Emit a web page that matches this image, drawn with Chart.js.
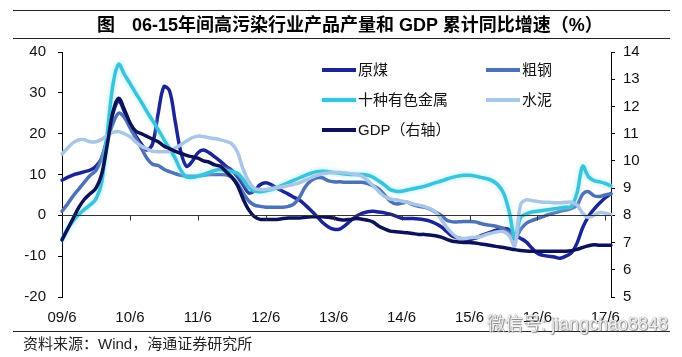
<!DOCTYPE html>
<html><head><meta charset="utf-8">
<script src="https://cdn.jsdelivr.net/npm/chart.js@4.4.1/dist/chart.umd.min.js"></script>
<style>
html,body{margin:0;padding:0;background:#fff;width:682px;height:357px;overflow:hidden;}
#wrap{position:relative;width:682px;height:357px;}
canvas{position:absolute;left:0;top:0;}
.rule{position:absolute;left:13px;width:657px;height:1px;background:#222;}
#t1,#t2{position:absolute;top:14px;font-family:"Liberation Sans","Noto Sans CJK SC",sans-serif;font-weight:bold;font-size:18px;line-height:22px;color:#000;white-space:pre;}
#t1{left:97px;}
#t2{left:132px;}
#src{position:absolute;left:23px;top:335px;font-family:"Liberation Sans","Noto Sans CJK SC",sans-serif;font-size:15px;line-height:18px;color:#222;white-space:pre;}
#wm{position:absolute;left:487px;top:313px;font-family:"Liberation Sans","Noto Sans CJK SC",sans-serif;font-size:18px;line-height:22px;color:#f2f2f2;white-space:pre;text-shadow:0 0 1px #666,1px 1px 1px #888;}
</style></head><body>
<div id="wrap">
<canvas id="c" width="682" height="357"></canvas>
<div class="rule" style="top:10px"></div>
<div class="rule" style="top:38px"></div>
<div id="t1">图</div>
<div id="t2">06-15年间高污染行业产品产量和 GDP 累计同比增速（%）</div>
<div class="rule" style="top:331px"></div>
<div id="src">资料来源：Wind，海通证券研究所</div>
<div id="wm">微信号: jiangchao8848</div>
</div>
<script>
// monthly categories 09/6 .. 17/7
const months = [];
for (let y = 9; y <= 17; y++) {
  for (let m = 1; m <= 12; m++) {
    if ((y === 9 && m < 6) || (y === 17 && m > 7)) continue;
    months.push(String(y).padStart(2, '0') + '/' + m);
  }
}

const seriesNames = ['原煤', '粗钢', '十种有色金属', '水泥', 'GDP（右轴）'];

const coal = [
  8.6, 9.3, 9.9, 10.3, 10.7, 11.1, 12, 14, 19, 25,
  28, 25.5, 22, 19.5, 17.5, 16, 17.5, 25, 31.5, 30.5,
  23, 15.5, 12, 13.2, 15.3, 16, 15.3, 14.3, 13.2, 12,
  11, 9.5, 7.5, 5.5, 6, 7.5, 8, 7.5, 6.6, 5.9,
  5.2, 4.4, 3.7, 2.5, 1.2, -0.2, -1.7, -2.8, -3.4, -3.4,
  -2.5, -1.3, -0.2, 0.5, 0.9, 1, 0.8, 0.6, 0.3, -0.2,
  -0.7, -0.8, -0.8, -0.9, -1.1, -1.4, -2, -2.8, -4, -5.1,
  -5.5, -5.8, -5.9, -5.6, -5, -4.5, -4, -3.5, -3.2, -3.5,
  -4.8, -5.6, -6.5, -8, -9.3, -9.8, -10, -10.2, -10.5, -10,
  -9.2, -6.8, -3, -0.3, 1.5, 3, 4.3, 5.3
];
const steel = [
  1, 2.8, 4.8, 6.5, 8.2, 9.8, 11, 14, 18.5, 22.5,
  25, 24, 21.5, 19, 16.5, 14, 12.5, 12.2, 11.3, 10.7,
  10.2, 9.8, 9.6, 9.6, 9.6, 9.8, 10, 10, 10, 9.9,
  9.3, 7.8, 5.5, 3.5, 2.5, 2.2, 2, 2, 2, 2,
  2.2, 2.8, 4.5, 7, 8.5, 9.2, 9.2, 8.5, 8.2, 8.2,
  8.1, 8.1, 8.1, 8.1, 7.8, 7.2, 6.4, 5, 3.5, 2.8,
  3, 3.2, 2.6, 2.2, 2, 1.5, 0.8, 0, -1.2, -1.6,
  -1.6, -1.5, -1.5, -1.6, -2, -2.3, -2.5, -2.8, -3.2, -4.5,
  -5.8, -3.5, -2, -1.3, -0.8, -0.3, 0.2, 0.6, 1, 1.3,
  1.7, 2.5, 5.2, 5.8, 4.8, 4.6, 5, 5.2
];
const nonferrous = [
  -6, -3.3, -1.3, 0.3, 1.5, 2.6, 4, 8, 20, 32,
  37, 34.6, 32.3, 30, 27.8, 25.4, 23.2, 21, 18.6, 16.3,
  14, 11, 9.4, 9.3, 9.6, 10, 10.5, 11, 11.2, 11,
  10.7, 10.3, 8.8, 6.8, 6, 5.8, 6, 6.3, 6.8, 7.4,
  8, 8.6, 9.2, 9.8, 10.3, 10.7, 10.8, 10.7, 10.5, 10.3,
  10.1, 10, 10, 10, 9.8, 9.3, 8.4, 7.4, 6.3, 5.9,
  5.9, 6.2, 6.5, 6.8, 7.1, 7.5, 8, 8.4, 8.9, 9.3,
  9.6, 9.8, 9.8, 9.6, 9.3, 9, 8.5, 7.5, 5.5, 1,
  -5.5, -0.5, 0.3, 0.8, 1, 1.2, 1.4, 1.6, 1.8, 2,
  2.2, 5.5, 12, 9.5, 8.5, 8.2, 7.8, 7.2
];
const cement = [
  15, 16.5, 17.8, 18.5, 18.5, 18, 18, 18.6, 19.5, 20.3,
  20.5, 20, 19.3, 18, 17, 16.3, 15.7, 15.6, 15.6, 15.7,
  16.5, 17.3, 18.2, 19, 19.4, 19.3, 19, 18.8, 18.5, 18.1,
  17.5, 15.5, 11.3, 8.3, 6.6, 6.3, 6.3, 6.5, 6.8, 7,
  7.3, 7.6, 8, 8.6, 9.2, 9.8, 10.2, 10.4, 10.5, 10.5,
  10.4, 10.2, 10, 9.6, 8.5, 7.2, 5.8, 4.6, 4, 3.8,
  3.5, 3.2, 2.8, 2.5, 2.2, 1.6, 0.8, -1, -3, -4.5,
  -5.5, -5.7, -5.5, -5.4, -5.2, -4.7, -4.3, -4, -4, -5,
  -7.5, 2.5, 3.8, 3.6, 3.4, 3.2, 3.2, 3.1, 3.1, 3.2,
  3.2, 2.5, 0.5, -0.5, 0, 0.7, 0.5, 0.2
];
const gdp = [
  7.1, 7.5, 7.9, 8.3, 8.6, 8.8, 9.0, 9.5, 10.6, 11.8,
  12.3, 11.9, 11.4, 11.1, 11.0, 10.9, 10.8, 10.7, 10.55, 10.45,
  10.35, 10.28, 10.2, 10.15, 10.1, 10.0, 9.95, 9.85, 9.8, 9.6,
  9.4, 9.1, 8.6, 8.2, 7.95, 7.85, 7.85, 7.85, 7.85, 7.88,
  7.9, 7.9, 7.9, 7.93, 7.95, 7.95, 7.95, 7.93, 7.9, 7.85,
  7.83, 7.85, 7.88, 7.86, 7.82, 7.75, 7.6, 7.5, 7.42, 7.4,
  7.38, 7.36, 7.33, 7.3, 7.3, 7.28, 7.25, 7.2, 7.12, 7.05,
  7.02, 7.0, 7.0, 6.98, 6.95, 6.92, 6.88, 6.85, 6.82, 6.78,
  6.74, 6.71, 6.69, 6.68, 6.68, 6.68, 6.68, 6.68, 6.68, 6.68,
  6.7, 6.75, 6.82, 6.88, 6.92, 6.9, 6.9, 6.9
];

const leftTicks = { min: -20, max: 40, step: 10 };
const rightTicks = { min: 5, max: 14, step: 1 };

const colors = ['#1c2596', '#4d72b6', '#3cc3d9', '#a9c6e8', '#0c1257'];
const legendSlots = [[0, 0], [1, 0], [0, 1], [1, 1], [0, 2]];

const glowPlugin = {
  id: 'glow',
  beforeDatasetDraw(chart, args) {
    const ds = chart.data.datasets[args.index];
    if (ds.glow) {
      chart.ctx.save();
      chart.ctx.shadowColor = 'rgba(140,235,255,0.9)';
      chart.ctx.shadowBlur = 4;
    }
  },
  afterDatasetDraw(chart, args) {
    const ds = chart.data.datasets[args.index];
    if (ds.glow) chart.ctx.restore();
  }
};

const zeroAxisPlugin = {
  id: 'zeroAxis',
  afterDatasetsDraw(chart) {
    const { ctx, chartArea, scales } = chart;
    const y0 = Math.round(scales.y.getPixelForValue(0)) + 0.5;
    ctx.save();
    ctx.strokeStyle = '#333';
    ctx.lineWidth = 1;
    ctx.beginPath();
    ctx.moveTo(chartArea.left, y0);
    ctx.lineTo(chartArea.right, y0);
    months.forEach((lab, i) => {
      if (i > 0 && lab.endsWith('/6')) {
        const x = Math.round(scales.x.getPixelForValue(i)) + 0.5;
        ctx.moveTo(x, y0);
        ctx.lineTo(x, y0 + 5);
      }
    });
    ctx.stroke();
    ctx.restore();
  }
};

const legendPlugin = {
  id: 'insideLegend',
  afterDraw(chart) {
    const ctx = chart.ctx;
    const colX = [322, 486];
    const rowY = [70, 100, 130];
    ctx.save();
    chart.data.datasets.forEach((ds, i) => {
      const [c, r] = legendSlots[i];
      const x = colX[c], y = rowY[r];
      ctx.strokeStyle = ds.borderColor;
      ctx.lineWidth = 4;
      if (ds.glow) { ctx.shadowColor = 'rgba(140,235,255,0.9)'; ctx.shadowBlur = 3; }
      ctx.beginPath();
      ctx.moveTo(x, y);
      ctx.lineTo(x + 34, y);
      ctx.stroke();
      ctx.shadowBlur = 0;
      ctx.fillStyle = '#111';
      ctx.font = '15px "Liberation Sans", "Noto Sans CJK SC", sans-serif';
      ctx.textBaseline = 'middle';
      ctx.fillText(ds.label, x + 36, y + 1);
    });
    ctx.restore();
  }
};

const series = [coal, steel, nonferrous, cement, gdp];
const datasets = series.map((data, i) => ({
  label: seriesNames[i],
  data: data,
  borderColor: colors[i],
  backgroundColor: colors[i],
  yAxisID: i === 4 ? 'y2' : 'y',
  order: 5 - i,
  glow: i === 2
}));

const tickFont = { family: '"Liberation Sans", Arial, sans-serif', size: 15 };

new Chart(document.getElementById('c'), {
  type: 'line',
  data: { labels: months, datasets: datasets },
  plugins: [glowPlugin, zeroAxisPlugin, legendPlugin],
  options: {
    responsive: false,
    animation: false,
    devicePixelRatio: 1,
    layout: { padding: { top: 52, left: 0, right: 0, bottom: 0 } },
    plugins: { legend: { display: false }, tooltip: { enabled: false }, title: { display: false } },
    elements: {
      point: { radius: 0 },
      line: { borderWidth: 3.5, tension: 0.35, borderCapStyle: 'round', borderJoinStyle: 'round' }
    },
    scales: {
      x: {
        type: 'category',
        offset: false,
        grid: { display: false, drawTicks: false },
        border: { display: false },
        ticks: {
          autoSkip: false, maxRotation: 0, minRotation: 0, padding: 12,
          color: '#111', font: tickFont,
          callback: (v, i) => (months[i].endsWith('/6') ? months[i] : '')
        },
        afterFit: s => { s.height = 60; }
      },
      y: {
        position: 'left',
        min: leftTicks.min, max: leftTicks.max,
        ticks: { stepSize: leftTicks.step, padding: 12, color: '#111', font: tickFont },
        grid: { drawOnChartArea: false, tickLength: 4, color: '#000' },
        border: { display: true, color: '#000', width: 1 },
        afterFit: s => { s.width = 62; }
      },
      y2: {
        position: 'right',
        min: rightTicks.min, max: rightTicks.max,
        ticks: { stepSize: rightTicks.step, padding: 8, color: '#111', font: tickFont },
        grid: { drawOnChartArea: false, tickLength: 4, color: '#000' },
        border: { display: true, color: '#000', width: 1 },
        afterFit: s => { s.width = 71; }
      }
    }
  }
});
</script>
</body></html>
